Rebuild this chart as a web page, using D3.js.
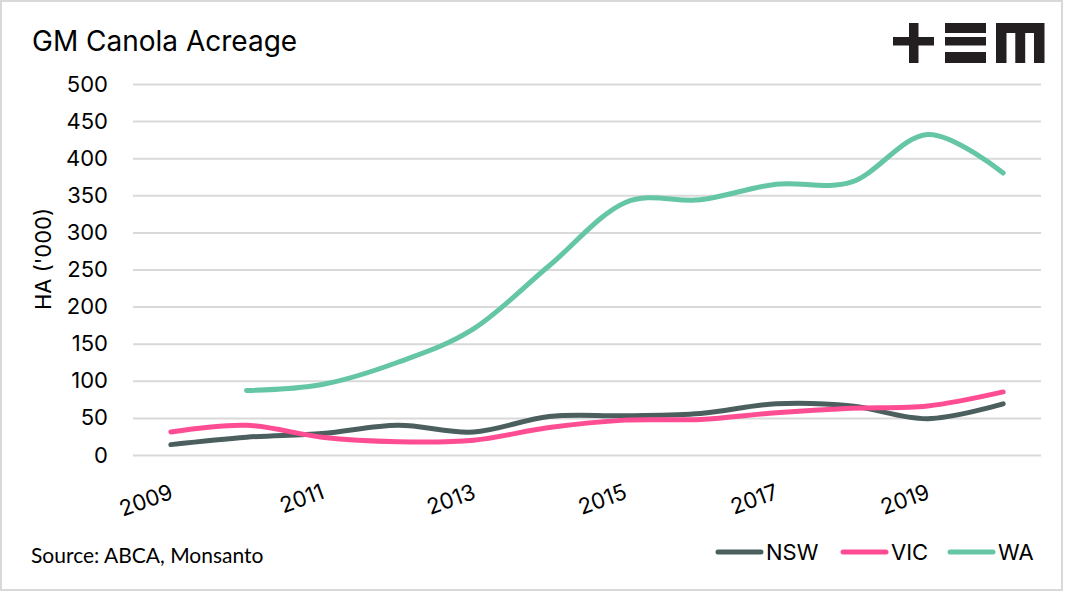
<!DOCTYPE html>
<html>
<head>
<meta charset="utf-8">
<script src="https://cdn.jsdelivr.net/npm/d3@7"></script>
<style>
  body { margin: 0; background: #fff; }
  svg { display: block; }
  text { font-family: Inter, "Noto Sans", sans-serif; fill: #000; }
</style>
</head>
<body>
<svg id="chart"></svg>
<script>
// GM canola acreage, HA ('000)
let years = ['2009','2010','2011','2012','2013','2014','2015','2016','2017','2018','2019','2020'];
let xLabels = ['2009','2011','2013','2015','2017','2019'];
let yTicks = [0, 50, 100, 150, 200, 250, 300, 350, 400, 450, 500];

let nswValues = [14, 24, 29, 40, 31, 52, 53, 56, 69, 66, 49, 69];
let vicValues = [31, 40, 24, 18, 20, 37, 47, 48, 57, 63, 66, 85];
let waValues  = [null, 87, 95, 125, 170, 255, 340, 344, 365, 368, 432, 380];

let seriesNames = ['NSW', 'VIC', 'WA'];
let seriesColors = ['#4b5f5f', '#ff4d94', '#65c6a6'];

let w = 1065;
let h = 592;

let svg = d3.select('#chart')
  .attr('width', w)
  .attr('height', h);

// outer frame
svg.append('rect')
  .attr('x', 1).attr('y', 1)
  .attr('width', 1061).attr('height', 589)
  .attr('fill', '#fff')
  .attr('stroke', '#d9d9d9')
  .attr('stroke-width', 2);

// title
svg.append('text')
  .attr('x', 32).attr('y', 51)
  .style('font-size', '28px')
  .text('GM Canola Acreage');

// logo  + = m
let logo = svg.append('g').attr('fill', '#231f20');
logo.append('rect').attr('x', 893).attr('y', 37).attr('width', 41).attr('height', 8.5);
logo.append('rect').attr('x', 909).attr('y', 23).attr('width', 9.5).attr('height', 40);
logo.append('rect').attr('x', 945).attr('y', 23).attr('width', 41).attr('height', 10);
logo.append('rect').attr('x', 945).attr('y', 37).attr('width', 41).attr('height', 8.5);
logo.append('rect').attr('x', 945).attr('y', 52).attr('width', 41).attr('height', 11);
logo.append('path')
  .attr('d', 'M996,23 H1044.5 V63 H1034 V33 H1025.2 V63 H1015.3 V33 H1006.5 V63 H996 Z');

// scales
let xScale = d3.scalePoint()
  .domain(years)
  .range([133, 1041])
  .padding(0.5);

let yScale = d3.scaleLinear()
  .domain([0, 500])
  .range([455, 84]);

// y axis + gridlines
let yAxis = d3.axisLeft(yScale)
  .tickValues(yTicks)
  .tickSize(-908)
  .tickPadding(25);

let yAxisGroup = svg.append('g')
  .attr('transform', 'translate(133, 0)')
  .call(yAxis);
yAxisGroup.select('.domain').remove();
yAxisGroup.selectAll('line')
  .attr('stroke', '#d9d9d9')
  .attr('stroke-width', 2);
yAxisGroup.selectAll('text')
  .style('font-size', '22px')
  .style('font-family', 'Inter, sans-serif')
  .attr('fill', '#000');

// x axis
let xAxis = d3.axisBottom(xScale)
  .tickValues(xLabels)
  .tickSize(0);

let xAxisGroup = svg.append('g')
  .attr('transform', 'translate(0, 455)')
  .call(xAxis);
xAxisGroup.select('.domain').remove();
xAxisGroup.selectAll('text')
  .style('font-size', '22px')
  .style('font-family', 'Inter, sans-serif')
  .attr('fill', '#000')
  .attr('x', 0).attr('y', 0).attr('dy', 0)
  .attr('text-anchor', 'end')
  .attr('transform', 'translate(3, 43) rotate(-20)');

// y axis title
svg.append('text')
  .attr('transform', 'translate(51, 259) rotate(-90)')
  .attr('text-anchor', 'middle')
  .style('font-size', '22px')
  .text("HA ('000)");

// lines
let lineGen = d3.line()
  .defined((d) => d.v != null)
  .x((d) => xScale(d.year))
  .y((d) => yScale(d.v))
  .curve(d3.curveCatmullRom.alpha(0));

let allSeries = [nswValues, vicValues, waValues];
allSeries.forEach(function(vals, i) {
  let pts = years.map((yr, j) => ({ year: yr, v: vals[j] })).filter((d) => d.v != null);
  svg.append('path')
    .datum(pts)
    .attr('d', lineGen)
    .attr('fill', 'none')
    .attr('stroke', seriesColors[i])
    .attr('stroke-width', 5)
    .attr('stroke-linecap', 'round')
    .attr('stroke-linejoin', 'round');
});

// source
svg.append('text')
  .attr('x', 31).attr('y', 563)
  .style('font-family', 'Lato, "Open Sans", sans-serif')
  .style('font-size', '21px')
  .text('Source: ABCA, Monsanto');

// legend
let legendX = [718, 843, 950];
let legend = svg.append('g');
seriesNames.forEach(function(name, i) {
  legend.append('line')
    .attr('x1', legendX[i]).attr('x2', legendX[i] + 43)
    .attr('y1', 552).attr('y2', 552)
    .attr('stroke', seriesColors[i])
    .attr('stroke-width', 5)
    .attr('stroke-linecap', 'round');
  legend.append('text')
    .attr('x', legendX[i] + 48).attr('y', 560)
    .style('font-size', '22px')
    .text(name);
});
</script>
</body>
</html>
